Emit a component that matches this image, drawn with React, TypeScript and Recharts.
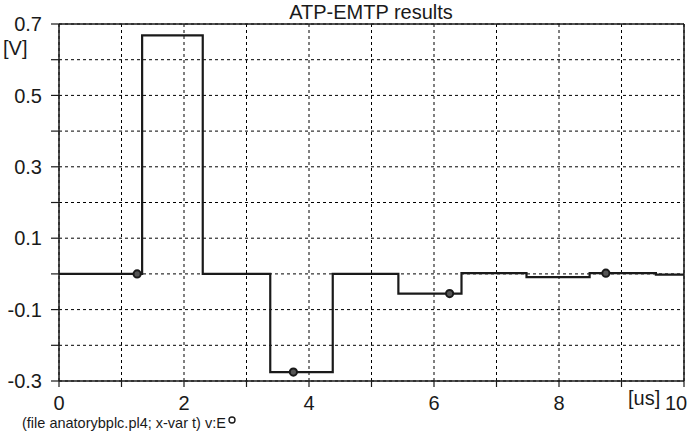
import React from "react";
import {
  ComposedChart,
  Line,
  Scatter,
  XAxis,
  YAxis,
  CartesianGrid,
  ReferenceLine,
} from "recharts";

const xTicks = [0, 1, 2, 3, 4, 5, 6, 7, 8, 9, 10];
const xTickLabels = ["0", "", "2", "", "4", "", "6", "", "8", "", "10"];
const yTicks = [-0.3, -0.2, -0.1, 0, 0.1, 0.2, 0.3, 0.4, 0.5, 0.6, 0.7];
const yTickLabels = ["-0.3", "", "-0.1", "", "0.1", "", "0.3", "", "0.5", "", "0.7"];

// step changes of v:E (time in us, voltage in V)
const stepTimes = [0, 1.33, 2.3, 3.38, 4.38, 5.43, 6.44, 7.48, 8.49, 9.55, 10];
const stepVolts = [0, 0.668, 0, -0.275, 0, -0.055, 0.002, -0.009, 0.002, -0.002, -0.002];

// marker symbols drawn on the curve
const markerTimes = [1.25, 3.75, 6.25, 8.75];
const markerVolts = [0, -0.275, -0.055, 0.002];

const stepData = stepTimes.map((t, i) => ({ t, v: stepVolts[i] }));
const markerData = markerTimes.map((t, i) => ({ t, v: markerVolts[i] }));

const INK = "#1a1a1a";
const FONT = "'Liberation Sans', Arial, Helvetica, sans-serif";

const XTick = (props: any) => {
  const { x, y, payload } = props;
  const idx = xTicks.indexOf(payload.value);
  const label = xTickLabels[idx] ?? "";
  const dx = payload.value === 10 ? -8 : 0;
  return (
    <text
      x={x + dx}
      y={y}
      dy="0.71em"
      textAnchor="middle"
      fontSize={20}
      fill={INK}
      fontFamily={FONT}
    >
      {label}
    </text>
  );
};

const Marker = (props: any) => (
  <circle cx={props.cx} cy={props.cy} r={3.6} fill="#555" stroke={INK} strokeWidth={2} />
);

export default function App() {
  return (
    <div
      style={{
        position: "absolute",
        left: 0,
        top: 0,
        width: 690,
        height: 442,
        background: "#fff",
        fontFamily: FONT,
      }}
    >
      <ComposedChart
        width={690}
        height={442}
        margin={{ top: 24, right: 6, left: 0, bottom: 0 }}
      >
        <CartesianGrid stroke="#000" strokeDasharray="3 3" strokeWidth={1} />
        <XAxis
          dataKey="t"
          type="number"
          domain={[0, 10]}
          ticks={xTicks}
          interval={0}
          height={61}
          tickSize={6}
          tickMargin={9}
          axisLine={{ stroke: INK, strokeWidth: 1.5 }}
          tickLine={{ stroke: INK, strokeWidth: 1.2 }}
          tick={<XTick />}
          allowDataOverflow
        />
        <YAxis
          type="number"
          domain={[-0.3, 0.7]}
          ticks={yTicks}
          interval={0}
          width={59}
          tickSize={8}
          tickMargin={9}
          axisLine={{ stroke: INK, strokeWidth: 1.5 }}
          tickLine={{ stroke: INK, strokeWidth: 1.2 }}
          tick={{ fontSize: 20, fill: INK, fontFamily: FONT }}
          tickFormatter={(v: number) => {
            const i = yTicks.findIndex((t) => Math.abs(t - v) < 1e-9);
            return i >= 0 ? yTickLabels[i] : "";
          }}
          allowDataOverflow
        />
        <ReferenceLine y={0.7} stroke={INK} strokeWidth={1.5} ifOverflow="visible" />
        <ReferenceLine x={10} stroke={INK} strokeWidth={1.5} ifOverflow="visible" />
        <Line
          data={stepData}
          dataKey="v"
          type="stepAfter"
          stroke={INK}
          strokeWidth={2.2}
          dot={false}
          activeDot={false}
          isAnimationActive={false}
        />
        <Scatter
          data={markerData}
          dataKey="v"
          shape={<Marker />}
          isAnimationActive={false}
        />
      </ComposedChart>
      <svg
        width={690}
        height={442}
        style={{ position: "absolute", left: 0, top: 0, pointerEvents: "none" }}
        fontFamily={FONT}
        fill={INK}
      >
        <text x={371} y={18.5} textAnchor="middle" fontSize={20}>
          ATP-EMTP results
        </text>
        <text x={3} y={55} fontSize={20}>
          [V]
        </text>
        <text x={628} y={405} fontSize={20}>
          [us]
        </text>
        <text x={22} y={428} fontSize={14.5}>
          (file anatorybplc.pl4; x-var t) v:E
        </text>
        <circle cx={232} cy={420} r={3} fill="none" stroke={INK} strokeWidth={1.4} />
      </svg>
    </div>
  );
}
